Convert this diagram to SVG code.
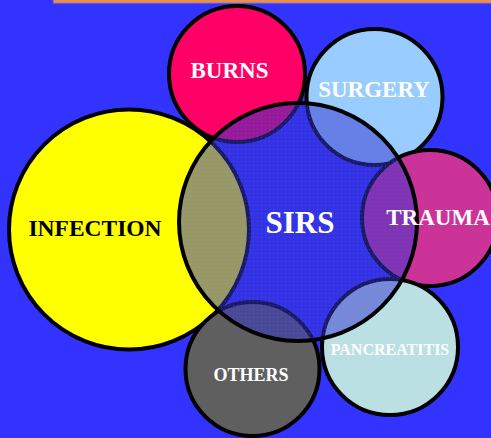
<svg xmlns="http://www.w3.org/2000/svg" width="491" height="438" viewBox="0 0 491 438">
<style>
.c{stroke:#000;stroke-width:4}
.t{font-family:"Liberation Serif","Times New Roman",serif;font-weight:bold;fill:#fff;text-anchor:middle}
</style>
<defs>
<pattern id="dots" width="4" height="4" patternUnits="userSpaceOnUse">
<rect x="1" y="1" width="1" height="1" fill="#6666ff" opacity="0.35"/>
</pattern>
</defs>
<rect width="491" height="438" fill="#3333ff"/>
<rect x="53.5" y="-3" width="440" height="6" fill="#e8914a" stroke="#a070b0" stroke-width="1"/>
<g id="infection"><circle class="c" cx="129" cy="229.5" r="120" fill="#ffff00"/></g>
<g id="burns"><circle class="c" cx="237" cy="74" r="68" fill="#ff0066"/></g>
<g id="surgery"><circle class="c" cx="374.5" cy="97" r="68" fill="#99ccff"/></g>
<g id="trauma"><circle class="c" cx="430" cy="218" r="68" fill="#cc3399"/></g>
<g id="pancreatitis"><circle class="c" cx="390" cy="347" r="68" fill="#bbe0e3"/></g>
<g id="others"><circle class="c" cx="252.5" cy="369" r="67" fill="#5f5f5f"/></g>
<g id="sirs">
<circle cx="298" cy="222" r="119" fill="#3333cc" fill-opacity="0.5"/>
<circle cx="298" cy="222" r="119" fill="url(#dots)"/>
<circle cx="298" cy="222" r="119" fill="none" stroke="#000" stroke-width="4"/>
</g>
<g id="labels">
<text class="t" x="229.5" y="78" font-size="23">BURNS</text>
<text class="t" x="374" y="97" font-size="23">SURGERY</text>
<text class="t" x="95" y="236" font-size="23.5" style="fill:#000">INFECTION</text>
<text class="t" x="300" y="233" font-size="31">SIRS</text>
<text class="t" x="438" y="225" font-size="23">TRAUMA</text>
<text class="t" x="390" y="355" font-size="16">PANCREATITIS</text>
<text class="t" x="251" y="381" font-size="18">OTHERS</text>
</g>
</svg>
